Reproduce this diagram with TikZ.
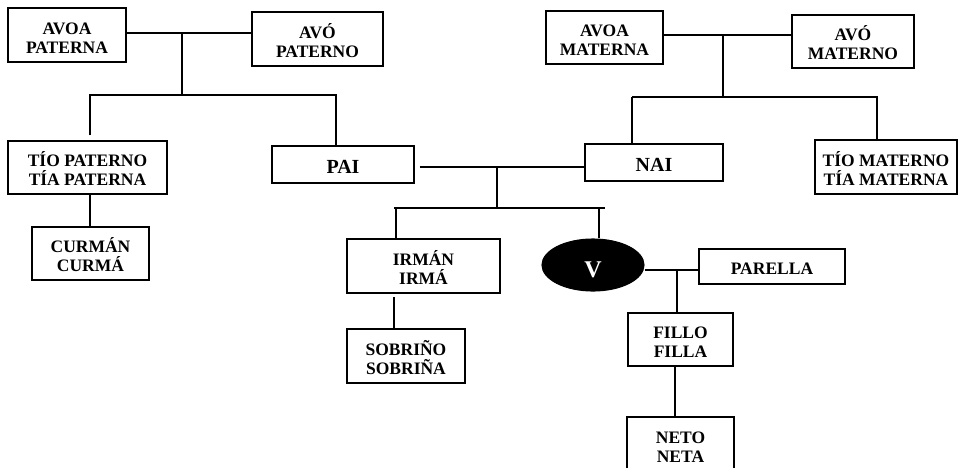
\documentclass[tikz,border=0pt]{standalone}
\usepackage{fontspec}
\setmainfont{Liberation Serif}
\usetikzlibrary{shapes.geometric}
\begin{document}
\begin{tikzpicture}[x=1pt,y=-1pt,
  line width=1.1pt,
  box/.style={draw, rectangle, inner sep=0pt, align=center, text depth=0pt, text height=36pt, font=\fontsize{17.5}{19}\selectfont\bfseries},
  bigbox/.style={draw, rectangle, inner sep=0pt, align=center, text depth=0pt, text height=17.2pt, font=\fontsize{20}{22}\selectfont\bfseries},
  onebox/.style={draw, rectangle, inner sep=0pt, align=center, text depth=0pt, text height=15pt, font=\fontsize{17.5}{19}\selectfont\bfseries},
  me/.style={draw, fill=black, ellipse, inner sep=0pt, minimum width=102pt, minimum height=52pt, text depth=0pt, text height=24.6pt, text=white, font=\fontsize{24}{26}\selectfont\bfseries}
]
\useasboundingbox (0,0) rectangle (958,467);
% grandparents
\node[box, minimum width=118pt, minimum height=54pt] (ap) at (67,35) {AVOA\\PATERNA};
\node[box, minimum width=131pt, minimum height=54pt] (op) at (317.5,39) {AVÓ\\PATERNO};
\node[box, minimum width=117pt, minimum height=53pt] (am) at (604.5,37.5) {AVOA\\MATERNA};
\node[box, minimum width=122pt, minimum height=53pt] (om) at (853,41.5) {AVÓ\\MATERNO};
% second generation
\node[box, minimum width=159pt, minimum height=53pt] (tp) at (87.5,167.5) {TÍO PATERNO\\TÍA PATERNA};
\node[bigbox, minimum width=142pt, minimum height=37pt] (pai) at (343,164.5) {PAI};
\node[bigbox, minimum width=138pt, minimum height=37pt] (nai) at (654,162.5) {NAI};
\node[box, minimum width=142pt, minimum height=54pt] (tm) at (886,167) {TÍO MATERNO\\TÍA MATERNA};
% third generation
\node[box, minimum width=117pt, minimum height=53pt] (cur) at (90.5,253.5) {CURMÁN\\CURMÁ};
\node[box, minimum width=153pt, minimum height=54pt] (irm) at (423.5,266) {IRMÁN\\IRMÁ};
\node[me] (v) at (593,265) {V};
\node[onebox, minimum width=146pt, minimum height=35pt] (par) at (772,266.5) {PARELLA};
\node[box, minimum width=118pt, minimum height=54pt] (sob) at (406,356) {SOBRIÑO\\SOBRIÑA};
\node[box, minimum width=105pt, minimum height=53pt] (fil) at (680.5,339.5) {FILLO\\FILLA};
\node[box, minimum width=107pt, minimum height=54pt] (net) at (680.5,444) {NETO\\NETA};
% junction coordinates
\coordinate (jp) at (182,33);
\coordinate (bp) at (182,95);
\coordinate (bpl) at (90,95);
\coordinate (bpr) at (336,95);
\coordinate (jmm) at (723,35);
\coordinate (bm) at (723,97);
\coordinate (bml) at (632,97);
\coordinate (bmr) at (877,97);
\coordinate (jc) at (497,167);
\coordinate (bc) at (497,208);
\coordinate (bcl) at (394,208);
\coordinate (bcr) at (605,208);
\coordinate (ci) at (396,208);
\coordinate (cv) at (599,208);
\coordinate (js) at (394,297);
\coordinate (jv) at (677,270);
\coordinate (jf) at (675,366);
% paternal side
\draw (ap.east |- jp) -- (op.west |- jp);
\draw (jp) -- (bp);
\draw ([yshift=5pt]tp.north -| bpl) -- (bpl) -- (bpr) -- (pai.north -| bpr);
\draw (tp.south -| bpl) -- (cur.north -| bpl);
% maternal side
\draw (am.east |- jmm) -- (om.west |- jmm);
\draw (jmm) -- (bm);
\draw[line width=1.6pt] (nai.north -| bml) -- (bml);
\draw (bml) -- (bmr) -- (tm.north -| bmr);
% parents and children
\draw ([xshift=5pt]pai.east |- jc) -- (nai.west |- jc);
\draw (jc) -- (bc);
\draw (bcl) -- (bcr);
\draw (ci) -- (irm.north -| ci);
\draw (cv) -- (v.north -| cv);
\draw (js) -- (sob.north -| js);
% own family
\draw (v.east |- jv) -- (par.west |- jv);
\draw (jv) -- (fil.north -| jv);
\draw (jf) -- (net.north -| jf);
\end{tikzpicture}
\end{document}
